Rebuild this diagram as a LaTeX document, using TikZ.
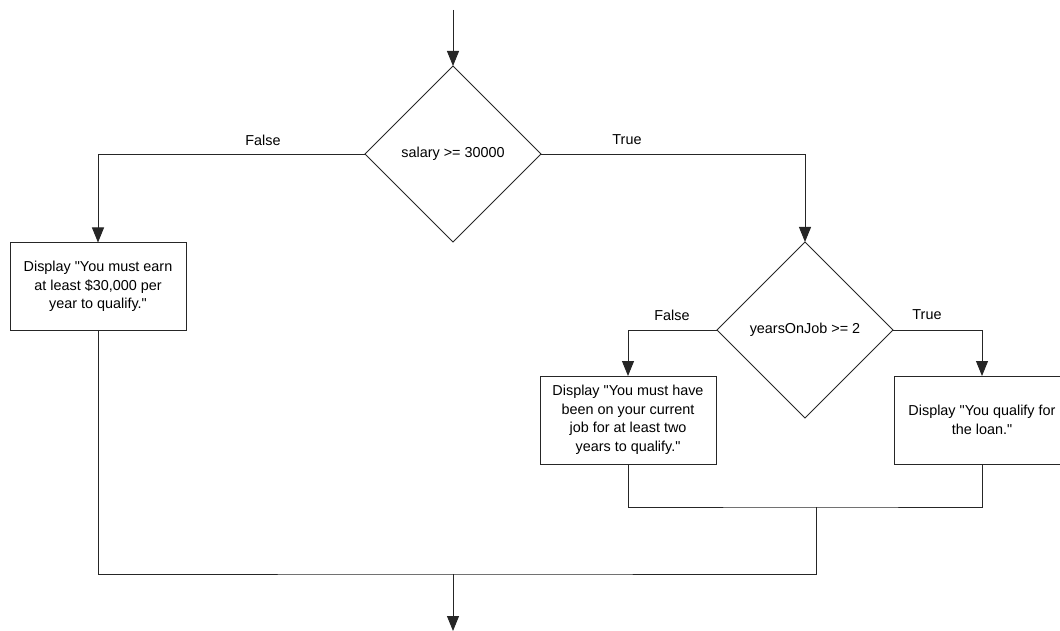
\documentclass[tikz,border=0pt]{standalone}
\usepackage{fontspec}
\setmainfont{Liberation Sans}
\usetikzlibrary{shapes.geometric,arrows.meta}
\newcommand{\qq}{\textquotedbl}
\begin{document}
\begin{tikzpicture}[x=1pt,y=-1pt,
  every node/.style={font=\fontsize{14.4}{18.5}\selectfont},
  line/.style={draw=black!85,line width=0.9pt},
  arr/.style={line,-{Triangle[width=12pt,length=15pt]}},
  decision/.style={diamond,draw=black!85,line width=0.9pt,inner sep=0pt,outer sep=0pt,minimum width=176pt,minimum height=176pt},
  action/.style={rectangle,draw=black!85,line width=0.9pt,inner sep=0pt,outer sep=0pt,minimum width=176pt,minimum height=88pt,align=center},
  lbl/.style={inner sep=0pt}]
\clip (0,0) rectangle (1060,631);
\useasboundingbox (0,0) rectangle (1060,631);
\coordinate (start) at (453,10);
\node[decision] (d1) at (453,154) {salary >= 30000};
\node[decision] (d2) at (805,330) {yearsOnJob >= 2};
\node[action] (b1) at (98,286.5) {Display \qq You must earn\\at least \$30,000 per\\year to qualify.\qq};
\node[action] (b2) at (628,420) {Display \qq You must have\\been on your current\\job for at least two\\years to qualify.\qq};
\node[action] (b3) at (982,420) {Display \qq You qualify for\\the loan.\qq};
\coordinate (m1) at (816,507);
\coordinate (m2) at (453,574);
\coordinate (end) at (453,631);
\draw[arr] (start) -- (d1.north);
\draw[arr] (d1.west) -| (b1.north);
\draw[arr] (d1.east) -| (d2.north);
\draw[arr] (d2.west) -| (b2.north);
\draw[arr] (d2.east) -| (b3.north);
\draw[line] (b2.south) |- (m1) -| (b3.south);
\draw[line] (b1.south) |- (m2) -| (m1);
\draw[arr] (m2) -- (end);
\node[lbl] (f1) at (263,140) {False};
\node[lbl] (t1) at (627,140) {True};
\node[lbl] (f2) at (672,315) {False};
\node[lbl] (t2) at (927,315) {True};
\end{tikzpicture}
\end{document}
